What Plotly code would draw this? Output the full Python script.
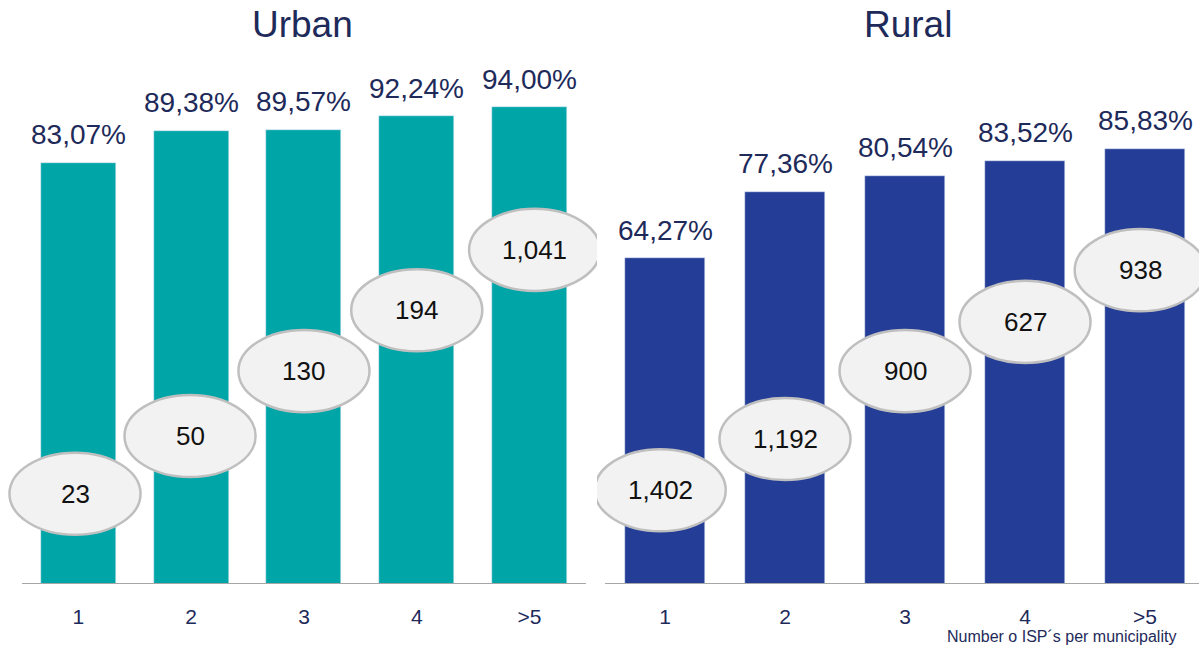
import plotly.graph_objects as go

categories = ["1", "2", "3", "4", ">5"]
urban_pct = [83.07, 89.38, 89.57, 92.24, 94.00]
rural_pct = [64.27, 77.36, 80.54, 83.52, 85.83]
urban_counts = ["23", "50", "130", "194", "1,041"]
rural_counts = ["1,402", "1,192", "900", "627", "938"]
panel_titles = ["Urban", "Rural"]
axis_note = "Number o ISP´s per municipality"

# bubble placement (style): vertical level in axis units and small x offsets
urban_bubble_y = [17.8, 29.2, 42.0, 54.0, 65.9]
rural_bubble_y = [18.5, 28.6, 42.0, 51.7, 61.9]
urban_bubble_dx = [-0.03, -0.01, 0.0, 0.0, 0.045]
rural_bubble_dx = [-0.04, 0.0, 0.0, 0.0, -0.04]

W, H = 1199, 648
NAVY = "#1E2A5A"
TEAL = "#00A5A8"
BLUE = "#243D96"
FONT = "Liberation Sans, Arial, sans-serif"

fig = go.Figure()
fig.add_trace(go.Bar(x=list(range(5)), y=urban_pct, marker_color=TEAL, width=0.665,
                     xaxis="x", yaxis="y", hoverinfo="skip", showlegend=False))
fig.add_trace(go.Bar(x=list(range(5)), y=rural_pct, marker_color=BLUE, width=0.667,
                     xaxis="x2", yaxis="y2", hoverinfo="skip", showlegend=False))

split = 597 / W
ydom = [64 / H, 571 / H]
common_x = dict(tickmode="array", tickvals=list(range(5)), ticktext=categories,
                showgrid=False, zeroline=False, showline=False,
                ticks="outside", ticklen=14, tickcolor="rgba(0,0,0,0)",
                tickfont=dict(size=21, color=NAVY, family=FONT))
fig.update_layout(
    width=W, height=H, margin=dict(l=0, r=0, t=0, b=0),
    paper_bgcolor="white", plot_bgcolor="white",
    xaxis=dict(domain=[0, split], range=[-0.695, 4.598], **common_x),
    xaxis2=dict(domain=[split, 1], range=[-0.567, 4.45], **common_x),
    yaxis=dict(domain=ydom, range=[0, 100], visible=False),
    yaxis2=dict(domain=ydom, range=[0, 100], visible=False, anchor="x2"),
    bargap=0,
)
fig.update_layout(xaxis2_anchor="y2")

shapes = []
annotations = []
for xr, yr, pct, counts, by, bdx, hw in [
    ("x", "y", urban_pct, urban_counts, urban_bubble_y, urban_bubble_dx, 0.581),
    ("x2", "y2", rural_pct, rural_counts, rural_bubble_y, rural_bubble_dx, 0.546),
]:
    shapes.append(dict(type="line", xref=xr, yref=yr, x0=-0.5, x1=4.5, y0=0, y1=0,
                       line=dict(color="#A6A6A6", width=2)))
    for i, v in enumerate(pct):
        annotations.append(dict(xref=xr, yref=yr, x=i, y=v, xanchor="center", yanchor="middle",
                                yshift=28, text=f"{v:.2f}%".replace(".", ","), showarrow=False,
                                font=dict(size=28, color=NAVY, family=FONT)))
        cx = i + bdx[i]
        shapes.append(dict(type="circle", xref=xr, yref=yr, x0=cx - hw, x1=cx + hw,
                           y0=by[i] - 8.1, y1=by[i] + 8.1, fillcolor="#F2F2F2",
                           line=dict(color="#BFBFBF", width=2.5), layer="above"))
        annotations.append(dict(xref=xr, yref=yr, x=cx, y=by[i], text=counts[i],
                                xanchor="center", yanchor="middle", showarrow=False,
                                font=dict(size=26, color="#111111", family=FONT)))

annotations.append(dict(xref="paper", yref="paper", x=302 / W, y=(H - 25) / H, text=panel_titles[0],
                        showarrow=False, xanchor="center", yanchor="middle",
                        font=dict(size=37, color=NAVY, family=FONT)))
annotations.append(dict(xref="paper", yref="paper", x=908 / W, y=(H - 25) / H, text=panel_titles[1],
                        showarrow=False, xanchor="center", yanchor="middle",
                        font=dict(size=37, color=NAVY, family=FONT)))
annotations.append(dict(xref="paper", yref="paper", x=1061 / W, y=(H - 636) / H, text=axis_note,
                        showarrow=False, xanchor="center", yanchor="middle",
                        font=dict(size=16, color=NAVY, family=FONT)))

fig.update_layout(shapes=shapes, annotations=annotations)
fig.write_html("out.html", config={"displayModeBar": False},
               post_script="document.body.style.margin='0px';document.body.style.overflow='hidden';")
